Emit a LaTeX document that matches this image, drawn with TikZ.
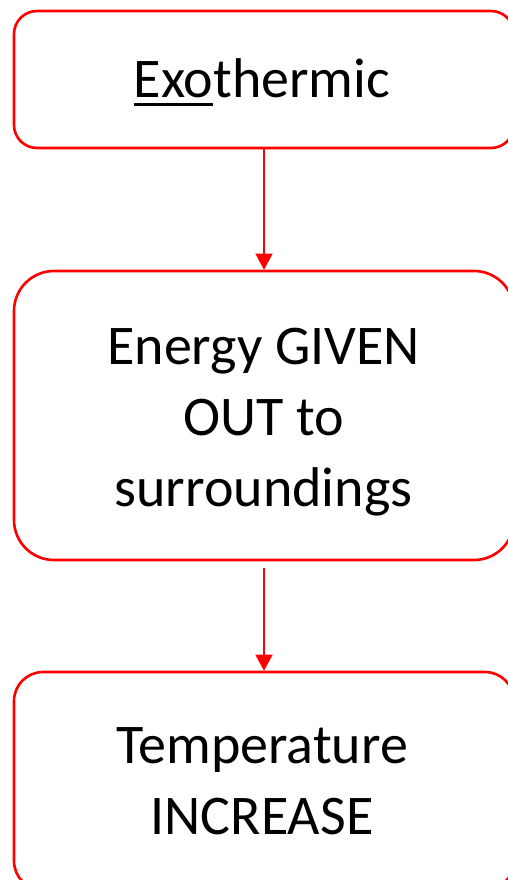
\documentclass[tikz,border=0pt]{standalone}
\usepackage{fontspec}
\setmainfont{Carlito}
\usetikzlibrary{arrows.meta}
\newcommand\myul[1]{\setbox0\hbox{#1}\rlap{\rule[-8.5pt]{\wd0}{3pt}}\box0}
\tikzset{
  flowbox/.style={draw=red, line width=2.6pt, rectangle, minimum width=500pt, inner sep=0pt},
  flowtext/.style={anchor=base, align=center, inner sep=0pt, font=\fontsize{56}{71}\selectfont},
  flowarrow/.style={draw=red, line width=1.4pt, -{Triangle[width=17pt,length=16pt]}}
}
\begin{document}
\begin{tikzpicture}[x=1pt,y=-1pt]
\clip (0,0) rectangle (508,880);
\fill[white] (0,0) rectangle (508,880);
\node[flowbox, minimum height=137pt, rounded corners=23pt] (b1) at (264,79.5) {};
\node[flowbox, minimum height=289pt, rounded corners=40pt] (b2) at (264,415.5) {};
\node[flowbox, minimum height=218pt, rounded corners=29pt] (b3) at (264,781) {};
\node[flowtext] (t1) at (262,98) {\myul{Exo}thermic};
\node[flowtext] (t2) at (263.5,506) {Energy GIVEN\\OUT to\\surroundings};
\node[flowtext] (t3) at (262,834) {Temperature\\INCREASE};
\draw[flowarrow] (b1.south) -- (b2.north);
\draw[flowarrow, shorten <=6.5pt] (b2.south) -- (b3.north);
\end{tikzpicture}
\end{document}
